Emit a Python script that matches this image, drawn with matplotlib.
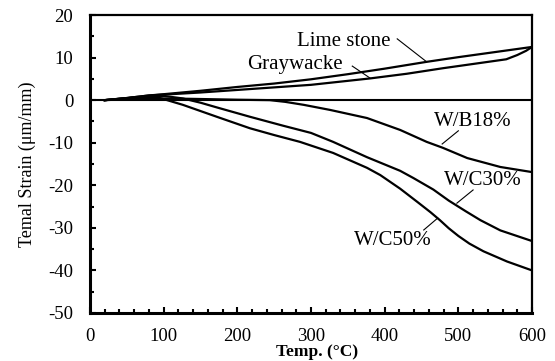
import numpy as np
import matplotlib
matplotlib.use('Agg')
import matplotlib.pyplot as plt
from matplotlib.ticker import MultipleLocator

plt.rcParams['font.family'] = ['Liberation Serif', 'DejaVu Serif']
plt.rcParams['axes.unicode_minus'] = False

# thermal strain curves
lime_t = [20, 50, 80, 100, 150, 200, 250, 300, 350, 400, 457, 500, 550, 600]
lime_s = [0, 0.5, 1.1, 1.4, 2.2, 3.1, 3.9, 4.9, 6.1, 7.4, 9.0, 10.1, 11.3, 12.5]

gray_t = [20, 50, 80, 100, 150, 200, 250, 300, 380, 430, 479, 520, 565, 580, 592, 600]
gray_s = [0, 0.5, 1.1, 1.3, 1.8, 2.4, 3.0, 3.6, 5.1, 6.2, 7.5, 8.5, 9.6, 10.6, 11.6, 12.5]

wb18_t = [20, 60, 100, 140, 200, 244, 265, 290, 326, 376, 421, 457, 479, 512, 557, 600]
wb18_s = [0, 0.3, 0.4, 0.3, 0.1, 0, -0.4, -1.1, -2.3, -4.2, -7.0, -9.8, -11.2, -13.6, -15.7, -16.9]

wc30_t = [20, 60, 100, 126, 150, 172, 217, 262, 300, 330, 376, 421, 439, 466, 487, 510, 530, 557, 600]
wc30_s = [0, 0.6, 1.0, 0.4, -0.6, -1.7, -3.9, -6.0, -7.7, -9.8, -13.4, -16.6, -18.3, -21.0, -23.6, -26.1,
          -28.2, -30.6, -33.1]

wc50_t = [20, 60, 95, 126, 172, 217, 250, 285, 330, 376, 394, 421, 445, 462, 475, 487, 500, 515, 534, 566, 600]
wc50_s = [0, 0.6, 0.5, -1.1, -3.9, -6.6, -8.2, -9.8, -12.4, -15.9, -17.6, -20.8, -24.0, -26.3, -28.2,
          -30.1, -31.9, -33.7, -35.5, -37.9, -40.0]

labels = ['Lime stone', 'Graywacke', 'W/B18%', 'W/C30%', 'W/C50%']
series = [(lime_t, lime_s), (gray_t, gray_s), (wb18_t, wb18_s),
          (wc30_t, wc30_s), (wc50_t, wc50_s)]

# label placement and leader lines (text xy, leader start, leader end)
label_xy = [(345, 13.7), (278, 8.3), (519, -5.1), (533, -18.8), (411, -32.9)]
leaders = [((417, 14.4), (457, 9.0)),
           ((356, 8.0), (380, 5.2)),
           ((500, -7.2), (478, -10.3)),
           ((520, -21.1), (498, -24.2)),
           ((472, -27.7), (453, -30.5))]

fig = plt.figure(figsize=(5.55, 3.61), dpi=100)
ax = fig.add_axes([0.1622, 0.133, 0.7964, 0.8254])

ax.axhline(0, color='black', lw=1.5, zorder=1)
for (t, s) in series:
    ax.plot(t, s, color='black', lw=1.6, zorder=2, solid_joinstyle='round')

for lab, (tx, ty), (p0, p1) in zip(labels, label_xy, leaders):
    ax.text(tx, ty, lab, fontsize=15, ha='center', va='center')
    ax.plot([p0[0], p1[0]], [p0[1], p1[1]], color='black', lw=0.8)

ax.set_xlim(0, 600)
ax.set_ylim(-50, 20)
ax.xaxis.set_major_locator(MultipleLocator(100))
ax.xaxis.set_minor_locator(MultipleLocator(20))
ax.yaxis.set_major_locator(MultipleLocator(10))
ax.yaxis.set_minor_locator(MultipleLocator(5))
ax.tick_params(which='both', direction='in', top=False, right=False,
               labelsize=13.5, width=1.5, pad=12)
ax.tick_params(axis='x', which='both', pad=10.5)
ax.tick_params(which='major', length=4.5)
ax.tick_params(which='minor', length=3)

ax.spines['left'].set_linewidth(2.2)
ax.spines['bottom'].set_linewidth(2.2)
ax.spines['top'].set_linewidth(1.6)
ax.spines['right'].set_linewidth(1.6)

ax.set_xlabel('Temp. (°C)', fontsize=12.5, fontweight='bold')
ax.xaxis.set_label_coords(0.514, -0.103)
ax.set_ylabel('Temal Strain (μm/mm)', fontsize=13, labelpad=9)

fig.savefig('out.png', dpi=100)
